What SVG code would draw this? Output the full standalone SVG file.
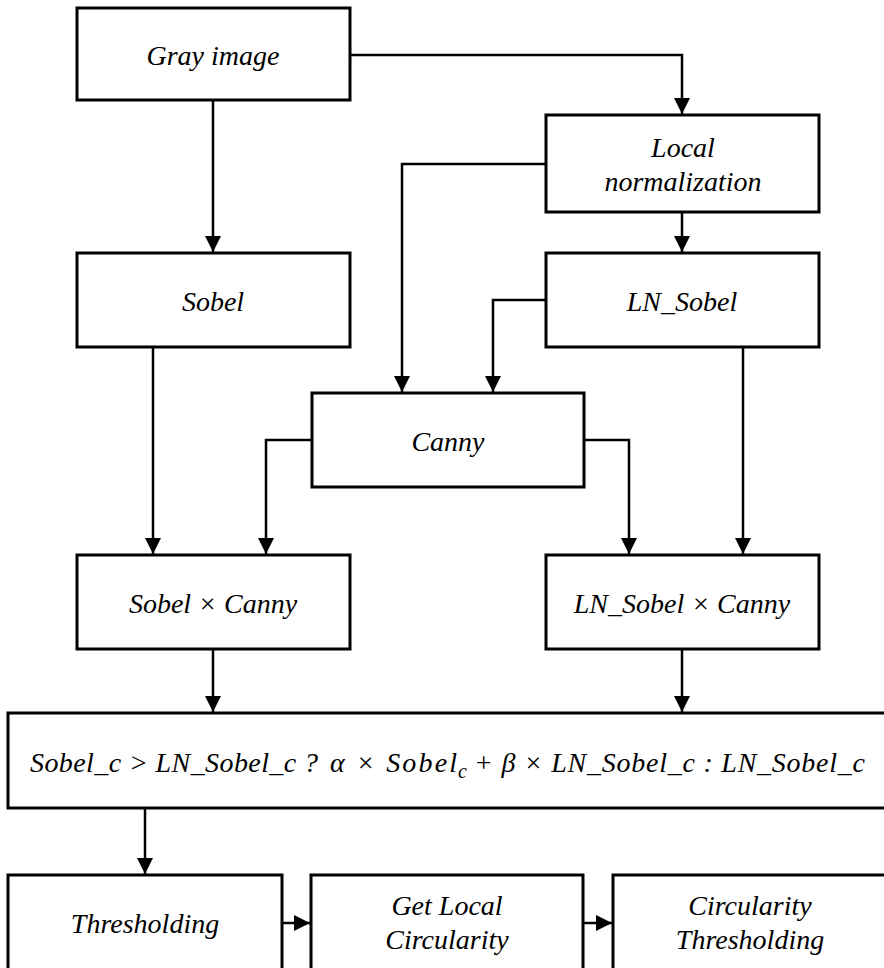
<svg xmlns="http://www.w3.org/2000/svg" width="884" height="968" viewBox="0 0 884 968">
<style>
.box{fill:#fff;stroke:#000;stroke-width:3}
.c{fill:none;stroke:#000;stroke-width:2.5;marker-end:url(#ah)}
</style>
<defs>
<marker id="ah" markerUnits="userSpaceOnUse" markerWidth="18" markerHeight="18" refX="16" refY="8" orient="auto">
<path d="M0,0 L16,8 L0,16 z" fill="#000"/>
</marker>
</defs>
<rect width="884" height="968" fill="#fff"/>
<g id="connectors">
<path class="c" d="M350 55 H682 V114"/>
<path class="c" d="M213 100 V252"/>
<path class="c" d="M682 212 V252"/>
<path class="c" d="M546 164 H402 V392"/>
<path class="c" d="M546 300 H493 V392"/>
<path class="c" d="M153 347 V554"/>
<path class="c" d="M312 440 H266 V554"/>
<path class="c" d="M584 440 H629 V554"/>
<path class="c" d="M743 347 V554"/>
<path class="c" d="M213 649 V712"/>
<path class="c" d="M682 649 V712"/>
<path class="c" d="M145 808 V874"/>
<path class="c" d="M282 923 H310"/>
<path class="c" d="M583 923 H612"/>
</g>
<g font-family="Liberation Serif, Times New Roman, serif" font-style="italic" font-size="28" fill="#000">
<g id="gray" text-anchor="middle">
<rect class="box" x="77" y="8" width="273" height="92"/>
<text x="213" y="65">Gray image</text>
</g>
<g id="localnorm" text-anchor="middle">
<rect class="box" x="546" y="115" width="273" height="97"/>
<text x="683" y="157">Local</text>
<text x="683" y="191">normalization</text>
</g>
<g id="sobel" text-anchor="middle">
<rect class="box" x="77" y="253" width="273" height="94"/>
<text x="213" y="311">Sobel</text>
</g>
<g id="lnsobel" text-anchor="middle">
<rect class="box" x="546" y="253" width="273" height="94"/>
<text x="682" y="311">LN_Sobel</text>
</g>
<g id="canny" text-anchor="middle">
<rect class="box" x="312" y="393" width="272" height="94"/>
<text x="448" y="451">Canny</text>
</g>
<g id="sobelxcanny" text-anchor="middle">
<rect class="box" x="77" y="555" width="273" height="94"/>
<text x="213" y="613">Sobel × Canny</text>
</g>
<g id="lnsobelxcanny" text-anchor="middle">
<rect class="box" x="546" y="555" width="273" height="94"/>
<text x="682" y="613">LN_Sobel × Canny</text>
</g>
<g id="formula">
<rect class="box" x="8" y="713" width="890" height="95"/>
<text x="30" y="772" textLength="288" lengthAdjust="spacing">Sobel_c &gt; LN_Sobel_c ?</text>
<text x="330" y="772" textLength="127" lengthAdjust="spacing">α × Sobel</text>
<text x="458" y="778" font-size="20">c</text>
<text x="474" y="772" textLength="391" lengthAdjust="spacing">+ β × LN_Sobel_c : LN_Sobel_c</text>
</g>
<g id="thresholding" text-anchor="middle">
<rect class="box" x="8" y="875" width="274" height="110"/>
<text x="145" y="933">Thresholding</text>
</g>
<g id="getlocal" text-anchor="middle">
<rect class="box" x="311" y="875" width="272" height="110"/>
<text x="447" y="915">Get Local</text>
<text x="447" y="949">Circularity</text>
</g>
<g id="circthr" text-anchor="middle">
<rect class="box" x="613" y="875" width="290" height="110"/>
<text x="750" y="915">Circularity</text>
<text x="750" y="949">Thresholding</text>
</g>
</g>
</svg>
